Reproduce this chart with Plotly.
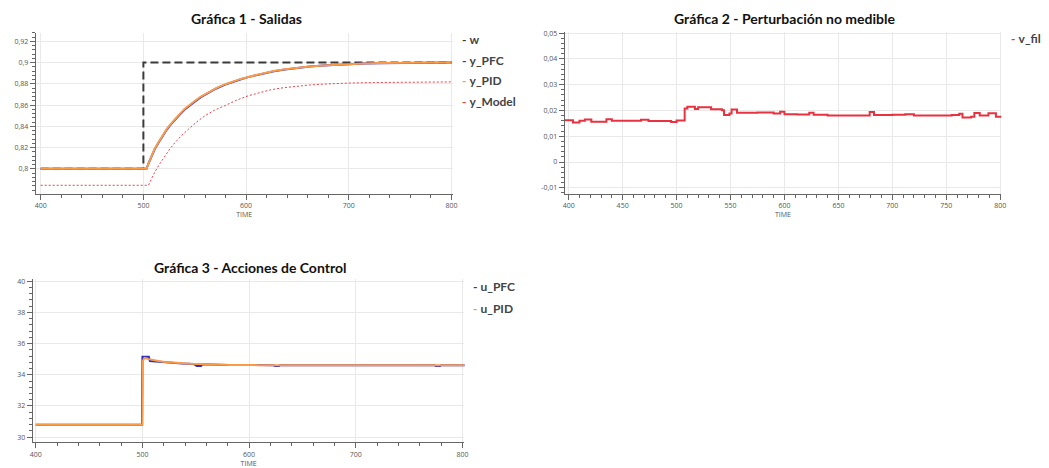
import plotly.graph_objects as go

# ---------------- data ----------------
# Gráfica 1 - Salidas
w_time = [400, 500, 500, 800]
w_vals = [0.8, 0.8, 0.9, 0.9]

y_time = [400, 503, 505, 508, 511, 515, 519, 523, 527, 531, 535, 540, 545, 550, 556, 563, 571, 579, 587, 595,
          603, 611, 619, 627, 638, 650, 662, 675, 688, 700, 715, 730, 745, 760, 780, 800]
y_pfc = [0.8, 0.8, 0.805, 0.8125, 0.8185, 0.825, 0.8315, 0.8372, 0.842, 0.8465, 0.8505, 0.8555, 0.8596, 0.8632,
         0.8675, 0.8716, 0.8756, 0.879, 0.8818, 0.8843, 0.8865, 0.8884, 0.8902, 0.8918, 0.8935, 0.895, 0.8962,
         0.8972, 0.898, 0.8986, 0.8991, 0.8994, 0.8996, 0.8998, 0.8999, 0.9]
y_pid = [0.8, 0.8, 0.8052, 0.8128, 0.819, 0.8255, 0.832, 0.8378, 0.8426, 0.8472, 0.8512, 0.8562, 0.8602, 0.8638,
         0.868, 0.8721, 0.876, 0.8794, 0.8821, 0.8846, 0.8867, 0.8886, 0.8904, 0.892, 0.8936, 0.8951, 0.8963,
         0.8973, 0.8981, 0.8987, 0.8992, 0.8995, 0.8997, 0.8999, 0.9, 0.9]

m_time = [400, 505, 508, 511, 516, 521, 526, 531, 537, 544, 552, 560, 569, 579, 590, 602, 613, 624, 637, 650,
          662, 675, 688, 700, 725, 750, 775, 800]
y_model = [0.7845, 0.7845, 0.7908, 0.7967, 0.8048, 0.8124, 0.819, 0.8249, 0.8312, 0.8374, 0.8442, 0.85, 0.8551,
           0.8593, 0.8643, 0.8687, 0.8718, 0.8744, 0.8764, 0.8778, 0.8789, 0.8797, 0.8803, 0.8807, 0.8812,
           0.8815, 0.8817, 0.8818]

# Gráfica 2 - Perturbación no medible
v_time = [396, 404, 410, 415, 421, 435, 440, 467, 474, 495, 500, 507.5, 510, 517, 520, 532, 542, 544,
          549, 551, 556, 575, 590, 596, 600, 612, 623, 627, 640, 679, 683, 700, 712, 720, 755, 762,
          765, 773, 776, 781, 789, 796, 801]
v_fil = [0.0162, 0.0153, 0.016, 0.0165, 0.0156, 0.0166, 0.016, 0.0164, 0.0159, 0.0155, 0.0161, 0.0208,
         0.0214, 0.0206, 0.0212, 0.0205, 0.0201, 0.0182, 0.0188, 0.0204, 0.0191, 0.0192, 0.0188, 0.0195,
         0.0185, 0.0184, 0.0191, 0.0183, 0.018, 0.0194, 0.0182, 0.0183, 0.0185, 0.018, 0.0182, 0.0187,
         0.0173, 0.0176, 0.019, 0.018, 0.0189, 0.0176, 0.0178]

# Gráfica 3 - Acciones de Control
upfc_time = [400, 499.6, 500, 506, 507, 520, 537, 548, 551, 555, 556, 580, 623, 624, 628, 629, 680, 774, 775, 779, 780, 804]
u_pfc = [30.8, 30.8, 35.15, 35.15, 34.88, 34.8, 34.72, 34.7, 34.57, 34.57, 34.67, 34.63, 34.62, 34.56, 34.56, 34.62,
         34.62, 34.62, 34.56, 34.56, 34.62, 34.62]
upid_time = [400, 500, 500.4, 502, 505, 509, 515, 521, 529, 537, 545, 552, 565, 583, 610, 650, 804]
u_pid = [30.8, 30.8, 34.9, 35.08, 35.02, 34.95, 34.88, 34.82, 34.77, 34.74, 34.71, 34.69, 34.66, 34.63, 34.62, 34.62, 34.62]

titles = ["Gráfica 1 - Salidas", "Gráfica 2 - Perturbación no medible", "Gráfica 3 - Acciones de Control"]
x_label = "TIME"

x1_ticks = [400, 500, 600, 700, 800]
x2_ticks = [400, 450, 500, 550, 600, 650, 700, 750, 800]
y1_ticks = [0.8, 0.82, 0.84, 0.86, 0.88, 0.9, 0.92]
y1_text = ["0,8", "0,82", "0,84", "0,86", "0,88", "0,9", "0,92"]
y2_ticks = [-0.01, 0, 0.01, 0.02, 0.03, 0.04, 0.05]
y2_text = ["-0,01", "0", "0,01", "0,02", "0,03", "0,04", "0,05"]
y3_ticks = [30, 32, 34, 36, 38, 40]

# ---------------- styles ----------------
C_W = "#3a3a3a"
C_PFC = "#2f2fc4"
C_PID = "#fb9a47"
C_MODEL = "#e8404c"
C_V = "#e8323f"
TXT = "#555555"
GRID = "#e9e9e9"

W, H = 1049, 468


def px_dom(a, b, total):
    return [a / total, b / total]


def py_dom(top, bottom):
    return [1 - bottom / H, 1 - top / H]


fig = go.Figure()

# chart 1
fig.add_trace(go.Scatter(x=w_time, y=w_vals, mode="lines", name="w",
                         line=dict(color=C_W, width=2, dash="8px,4px"), xaxis="x", yaxis="y"))
fig.add_trace(go.Scatter(x=y_time, y=y_pfc, mode="lines", name="y_PFC",
                         line=dict(color=C_PFC, width=2), xaxis="x", yaxis="y"))
fig.add_trace(go.Scatter(x=y_time, y=y_pid, mode="lines", name="y_PID",
                         line=dict(color=C_PID, width=2), xaxis="x", yaxis="y"))
fig.add_trace(go.Scatter(x=m_time, y=y_model, mode="lines", name="y_Model",
                         line=dict(color=C_MODEL, width=1, dash="2px,2px"), xaxis="x", yaxis="y"))
# chart 2
fig.add_trace(go.Scatter(x=v_time, y=v_fil, mode="lines", name="v_fil", line_shape="hv",
                         line=dict(color=C_V, width=2), xaxis="x2", yaxis="y2"))
# chart 3
fig.add_trace(go.Scatter(x=upfc_time, y=u_pfc, mode="lines", name="u_PFC",
                         line=dict(color=C_PFC, width=2), xaxis="x3", yaxis="y3"))
fig.add_trace(go.Scatter(x=upid_time, y=u_pid, mode="lines", name="u_PID",
                         line=dict(color=C_PID, width=2), xaxis="x3", yaxis="y3"))

tickfont = dict(family="Open Sans, sans-serif", size=7, color=TXT)


def xax(domain, rng, ticks, minor_dtick, anchor):
    return dict(domain=domain, range=rng, tickmode="array", tickvals=ticks, ticktext=[str(t) for t in ticks],
                showline=True, linecolor="#666", linewidth=1, ticks="outside", ticklen=5, tickcolor="#666",
                showgrid=True, gridcolor=GRID, zeroline=False, tickfont=tickfont, anchor=anchor,
                minor=dict(dtick=minor_dtick, tick0=400, ticks="outside", ticklen=3, tickcolor="#666", showgrid=False),
                title=dict(text=x_label, font=dict(family="Open Sans, sans-serif", size=7, color=TXT), standoff=2))


def yax(domain, rng, ticks, text, minor_dtick, tick0, anchor):
    return dict(domain=domain, range=rng, tickmode="array", tickvals=ticks, ticktext=text,
                showline=True, linecolor="#666", linewidth=1, ticks="outside", ticklen=5, tickcolor="#666",
                showgrid=True, gridcolor=GRID, zeroline=False, tickfont=tickfont, anchor=anchor,
                minor=dict(dtick=minor_dtick, tick0=tick0, ticks="outside", ticklen=3, tickcolor="#666", showgrid=False))


fig.update_layout(
    width=W, height=H, margin=dict(l=0, r=0, t=0, b=0),
    paper_bgcolor="white", plot_bgcolor="white", showlegend=False,
    xaxis=xax(px_dom(33, 453, W), [395.2, 801], x1_ticks, 20, "y"),
    yaxis=yax(py_dom(30, 192), [0.7765, 0.928], y1_ticks, y1_text, 0.004, 0.8, "x"),
    xaxis2=xax(px_dom(566, 1006, W), [396.3, 801], x2_ticks, 10, "y2"),
    yaxis2=yax(py_dom(29, 192), [-0.0123, 0.0505], y2_ticks, y2_text, 0.002, 0, "x2"),
    xaxis3=xax(px_dom(30, 465, W), [397.2, 801.9], x1_ticks, 20, "y3"),
    yaxis3=yax(py_dom(278, 442), [29.68, 40.13], y3_ticks, [str(t) for t in y3_ticks], 0.4, 30, "x3"),
)

# titles
title_font = dict(family="Lato, sans-serif", size=14, color="#111")
for text, xc, yc in [(titles[0], 245, 16), (titles[1], 788, 16), (titles[2], 249, 266)]:
    fig.add_annotation(text="<b>%s</b>" % text, x=xc / W, y=1 - yc / H, xref="paper", yref="paper",
                       xanchor="center", yanchor="middle", showarrow=False, font=title_font)

# legends (colored dash + name)
leg_font = dict(family="Lato, sans-serif", size=12, color="#444")
legend_items = [
    ("w", C_W, 461, 37), ("y_PFC", C_PFC, 461, 58), ("y_PID", C_PID, 461, 78), ("y_Model", C_MODEL, 461, 99),
    ("v_fil", C_V, 1014, 36),
    ("u_PFC", C_PFC, 472, 285), ("u_PID", C_PID, 472, 307),
]
for name, col, xl, yc in legend_items:
    fig.add_annotation(text='<span style="color:%s"><b>-</b></span> <b>%s</b>' % (col, name),
                       x=xl / W, y=1 - yc / H, xref="paper", yref="paper", xanchor="left", yanchor="middle",
                       showarrow=False, font=leg_font)

fig.write_html("out.html", config={"displayModeBar": False},
               post_script="document.body.style.margin='0';document.body.style.overflow='hidden';")
